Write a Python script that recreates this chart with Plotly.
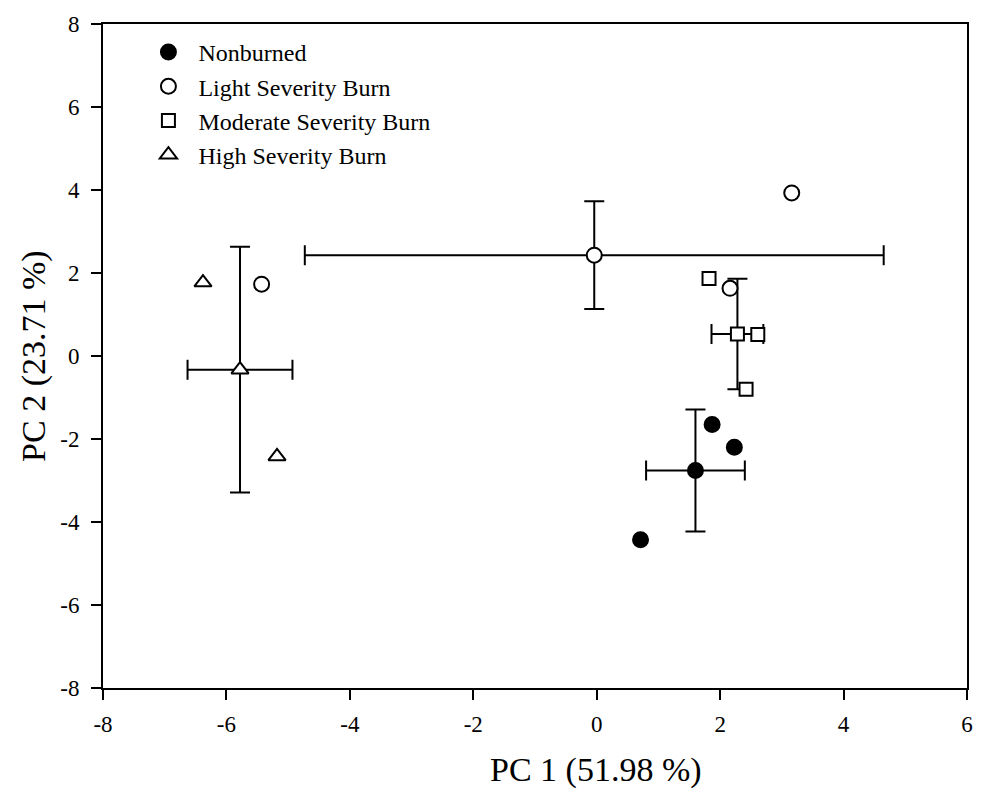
import plotly.graph_objects as go

# Group names and marker styles
groups = ["Nonburned", "Light Severity Burn", "Moderate Severity Burn", "High Severity Burn"]
symbols = ["circle", "circle-open", "square-open", "triangle-up-open"]

# Individual site scores (PC1, PC2)
nonburned_pc1 = [1.87, 2.23, 0.71]
nonburned_pc2 = [-1.65, -2.20, -4.43]
light_pc1 = [3.16, 2.16, -5.43]
light_pc2 = [3.93, 1.63, 1.73]
moderate_pc1 = [1.82, 2.61, 2.42]
moderate_pc2 = [1.87, 0.52, -0.80]
high_pc1 = [-6.38, -5.18]
high_pc2 = [1.77, -2.42]

# Group means and standard deviations
mean_pc1 = [1.60, -0.04, 2.28, -5.78]
mean_pc2 = [-2.76, 2.43, 0.53, -0.33]
sd_pc1 = [0.80, 4.69, 0.42, 0.85]
sd_pc2 = [1.47, 1.30, 1.33, 2.96]

# Axis ticks (plain hyphen for negatives)
x_ticks = [-8, -6, -4, -2, 0, 2, 4, 6]
y_ticks = [-8, -6, -4, -2, 0, 2, 4, 6, 8]
x_tick_text = ["-8", "-6", "-4", "-2", "0", "2", "4", "6"]
y_tick_text = ["-8", "-6", "-4", "-2", "0", "2", "4", "6", "8"]

points_pc1 = [nonburned_pc1, light_pc1, moderate_pc1, high_pc1]
points_pc2 = [nonburned_pc2, light_pc2, moderate_pc2, high_pc2]

FONT = "Liberation Serif, Times New Roman, serif"
fig = go.Figure()


def marker_for(sym):
    filled = not sym.endswith("-open")
    base = sym.replace("-open", "")
    size = {"circle": 15, "square": 13, "triangle-up": 15}[base]
    return dict(
        symbol=base,
        size=size,
        color="black" if filled else "white",
        line=dict(color="black", width=2),
    )


# Means with SD error bars in both directions
for i, g in enumerate(groups):
    fig.add_trace(go.Scatter(
        x=[mean_pc1[i]], y=[mean_pc2[i]],
        mode="markers",
        marker=marker_for(symbols[i]),
        error_x=dict(type="data", array=[sd_pc1[i]], color="black", thickness=2, width=10),
        error_y=dict(type="data", array=[sd_pc2[i]], color="black", thickness=2, width=10),
        showlegend=False,
        hoverinfo="skip",
    ))

# Individual scores
for i, g in enumerate(groups):
    fig.add_trace(go.Scatter(
        x=points_pc1[i], y=points_pc2[i],
        mode="markers",
        name=g,
        marker=marker_for(symbols[i]),
    ))

axis_common = dict(
    showgrid=False,
    zeroline=False,
    showline=True,
    linecolor="black",
    linewidth=2,
    mirror=True,
    ticks="outside",
    ticklen=10,
    tickwidth=2,
    tickcolor="black",
    tickfont=dict(family=FONT, size=23, color="black"),
)

fig.update_layout(
    width=985,
    height=803,
    margin=dict(l=103, r=15, t=20, b=115),
    paper_bgcolor="white",
    plot_bgcolor="white",
    font=dict(family=FONT, color="black"),
    xaxis=dict(range=[-8, 6], tickvals=x_ticks, ticktext=x_tick_text,
               ticklabelstandoff=4, **axis_common),
    yaxis=dict(range=[-8, 8], tickvals=y_ticks, ticktext=y_tick_text,
               ticklabelstandoff=7, **axis_common),
    legend=dict(
        x=0.041, y=0.991, xanchor="left", yanchor="top",
        font=dict(family=FONT, size=24, color="black"),
        bgcolor="rgba(0,0,0,0)",
        itemsizing="trace",
        itemwidth=50,
        tracegroupgap=0,
    ),
    annotations=[
        dict(text="PC 1 (51.98 %)", xref="paper", yref="paper",
             x=0.571, y=-0.123, xanchor="center", yanchor="middle",
             showarrow=False, font=dict(family=FONT, size=34, color="black")),
        dict(text="PC 2 (23.71 %)", xref="paper", yref="paper",
             x=-0.08, y=0.5, xanchor="center", yanchor="middle", textangle=-90,
             showarrow=False, font=dict(family=FONT, size=34, color="black")),
    ],
)

fig.write_html("out.html")
